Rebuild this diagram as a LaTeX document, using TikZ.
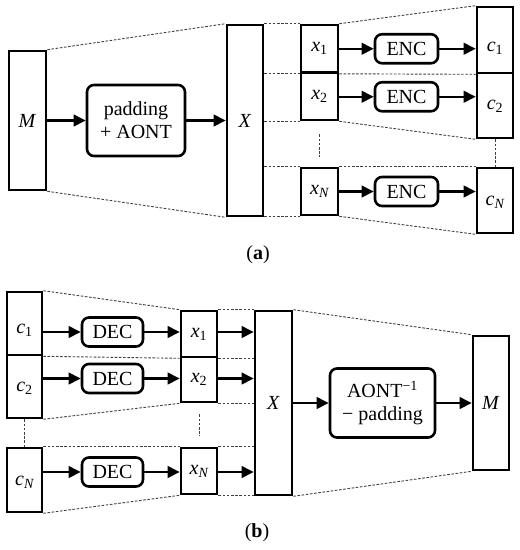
\documentclass[tikz,border=0pt]{standalone}
\usepackage{fontspec}
\setmainfont{Liberation Serif}
\usetikzlibrary{arrows.meta,calc}
\newcommand{\vi}[1]{\textit{#1}}
\newcommand{\vsub}[2]{\textit{#1}\textsubscript{#2}}
\tikzset{
  blk/.style={draw, line width=2.6pt, fill=white, inner sep=0pt, font=\fontsize{20}{23}\selectfont},
  rbox/.style={blk, rounded corners=7pt, align=center},
  lbl/.style={inner sep=0pt, font=\fontsize{20}{23}\selectfont},
  arr/.style={line width=2.3pt, -{Triangle[length=12pt,width=11.5pt]}},
  dsh/.style={black!75, line width=0.9pt, dash pattern=on 2.6pt off 1.6pt},
  captxt/.style={inner sep=0pt, font=\fontsize{20}{23}\selectfont}
}
\begin{document}
\begin{tikzpicture}[x=1pt,y=-1pt]
\useasboundingbox (0,0) rectangle (520,550);
% ---------- (a) ----------
\node[blk, minimum width=37pt, minimum height=139pt] (aM) at (27.5,120.5) {\vi{M}};
\node[rbox, minimum width=98pt, minimum height=71pt] (apad) at (136,120.5) {padding\\+ AONT};
\node[blk, minimum width=36pt, minimum height=191pt] (aX) at (245,120.5) {\vi{X}};
\node[blk, minimum width=37pt, minimum height=47.5pt] (ax1) at (319.5,48.75) {\vsub{x}{1}};
\node[blk, minimum width=37pt, minimum height=47.5pt] (ax2) at (319.5,96.25) {\vsub{x}{2}};
\node[blk, minimum width=37pt, minimum height=47pt] (axN) at (319.5,191.5) {\vsub{x}{\itshape N}};
\node[rbox, minimum width=63pt, minimum height=29pt] (aenc1) at (406.5,48.75) {ENC};
\node[rbox, minimum width=63pt, minimum height=29pt] (aenc2) at (406.5,96.75) {ENC};
\node[rbox, minimum width=63pt, minimum height=29pt] (aencN) at (406.5,191.5) {ENC};
\node[blk, minimum width=36pt, minimum height=66pt] (ac1) at (495,40) {};
\node[blk, minimum width=36pt, minimum height=65pt] (ac2) at (495,105.5) {};
\node[blk, minimum width=36pt, minimum height=65pt] (acN) at (495,200.5) {};
\node[lbl] (ac1t) at (495,48) {\vsub{c}{1}};
\node[lbl] (ac2t) at (495,106) {\vsub{c}{2}};
\node[lbl] (acNt) at (495,202) {\vsub{c}{\itshape N}};
\node[captxt] (capa) at (258,255) {(\textbf{a})};
% dashed (a)
\draw[dsh] (aM.north east) -- (aX.north west);
\draw[dsh] (aM.south east) -- (aX.south west);
\draw[dsh] (ax1.north west -| aX.east) -- (ax1.north west);
\draw[dsh] (ax1.south west -| aX.east) -- (ax1.south west);
\draw[dsh] (ax2.south west -| aX.east) -- (ax2.south west);
\draw[dsh] (axN.north west -| aX.east) -- (axN.north west);
\draw[dsh] (axN.south west -| aX.east) -- (axN.south west);
\draw[dsh] (ax1.north east) -- (ac1.north west);
\draw[dsh] (ax1.south east) -- (ac1.south west);
\draw[dsh] (ax2.south east) -- (ac2.south west);
\draw[dsh] (axN.north east) -- (acN.north west);
\draw[dsh] (axN.south east) -- (acN.south west);
\draw[dsh] ($(ax2.south)+(0,13)$) -- ($(axN.north)+(0,-10)$);
\draw[dsh] (ac2.south) -- (acN.north);
% arrows (a)
\draw[arr] (aM.east) -- (apad.west);
\draw[arr] (apad.east) -- (aX.west);
\draw[arr] (ax1.east) -- (aenc1.west);
\draw[arr] (aenc1.east) -- (aenc1.east -| ac1.west);
\draw[arr] (ax2.east |- aenc2) -- (aenc2.west);
\draw[arr] (aenc2.east) -- (aenc2.east -| ac2.west);
\draw[arr] (axN.east) -- (aencN.west);
\draw[arr] (aencN.east) -- (aencN.east -| acN.west);
% ---------- (b) ----------
\node[blk, minimum width=35pt, minimum height=63pt] (bc1) at (24.5,323.5) {};
\node[blk, minimum width=35pt, minimum height=63pt] (bc2) at (24.5,386.5) {};
\node[blk, minimum width=35pt, minimum height=64pt] (bcN) at (24.5,480) {};
\node[lbl] (bc1t) at (24.5,330) {\vsub{c}{1}};
\node[lbl] (bc2t) at (24.5,388) {\vsub{c}{2}};
\node[lbl] (bcNt) at (24.5,482) {\vsub{c}{\itshape N}};
\node[rbox, minimum width=61pt, minimum height=29pt] (bdec1) at (112.5,332) {DEC};
\node[rbox, minimum width=61pt, minimum height=29pt] (bdec2) at (112.5,378.5) {DEC};
\node[rbox, minimum width=61pt, minimum height=29pt] (bdecN) at (112.5,472) {DEC};
\node[blk, minimum width=36pt, minimum height=46pt] (bx1) at (199,334) {\vsub{x}{1}};
\node[blk, minimum width=36pt, minimum height=45pt] (bx2) at (199,379.5) {\vsub{x}{2}};
\node[blk, minimum width=36pt, minimum height=46pt] (bxN) at (199,471) {\vsub{x}{\itshape N}};
\node[blk, minimum width=37pt, minimum height=184pt] (bX) at (273.5,403) {\vi{X}};
\node[rbox, minimum width=105pt, minimum height=69pt] (baont) at (382.5,403) {AONT\textsuperscript{−1}\\− padding};
\node[blk, minimum width=36pt, minimum height=134pt] (bM) at (491,403) {\vi{M}};
\node[captxt] (capb) at (257,533) {(\textbf{b})};
% dashed (b)
\draw[dsh] (bc1.north east) -- (bx1.north west);
\draw[dsh] (bc1.south east) -- (bx1.south west);
\draw[dsh] (bc2.south east) -- (bx2.south west);
\draw[dsh] (bcN.north east) -- (bxN.north west);
\draw[dsh] (bcN.south east) -- (bxN.south west);
\draw[dsh] (bx1.north east) -- (bx1.north east -| bX.west);
\draw[dsh] (bx1.south east) -- (bx1.south east -| bX.west);
\draw[dsh] (bx2.south east) -- (bx2.south east -| bX.west);
\draw[dsh] (bxN.north east) -- (bxN.north east -| bX.west);
\draw[dsh] (bxN.south east) -- (bxN.south east -| bX.west);
\draw[dsh] (bX.north east) -- (bM.north west);
\draw[dsh] (bX.south east) -- (bM.south west);
\draw[dsh] (bc2.south) -- (bcN.north);
\draw[dsh] ($(bx2.south)+(0,11)$) -- ($(bxN.north)+(0,-11)$);
% arrows (b)
\draw[arr] (bdec1.west -| bc1.east) -- (bdec1.west);
\draw[arr] (bdec1.east) -- (bdec1.east -| bx1.west);
\draw[arr] (bdec1.east -| bx1.east) -- (bdec1.east -| bX.west);
\draw[arr] (bdec2.west -| bc2.east) -- (bdec2.west);
\draw[arr] (bdec2.east) -- (bdec2.east -| bx2.west);
\draw[arr] (bdec2.east -| bx2.east) -- (bdec2.east -| bX.west);
\draw[arr] (bdecN.west -| bcN.east) -- (bdecN.west);
\draw[arr] (bdecN.east) -- (bdecN.east -| bxN.west);
\draw[arr] (bdecN.east -| bxN.east) -- (bdecN.east -| bX.west);
\draw[arr] (bX.east) -- (baont.west);
\draw[arr] (baont.east) -- (bM.west);
\end{tikzpicture}
\end{document}
